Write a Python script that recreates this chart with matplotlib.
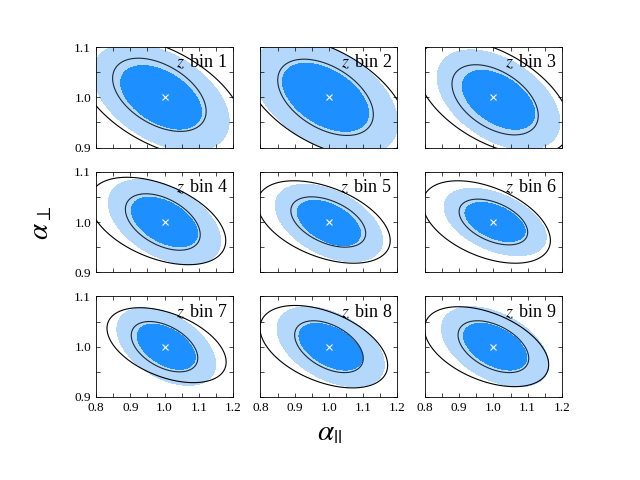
import numpy as np
import matplotlib
matplotlib.use('Agg')
import matplotlib.pyplot as plt
from matplotlib.ticker import MultipleLocator

plt.rcParams['font.family'] = ['Liberation Serif', 'DejaVu Serif']
plt.rcParams['mathtext.fontset'] = 'stix'

# per-bin Gaussian approximations
bins = [1, 2, 3, 4, 5, 6, 7, 8, 9]
fill_sig_par = [0.080, 0.085, 0.072, 0.066, 0.063, 0.060, 0.058, 0.063, 0.063]
fill_sig_perp = [0.043, 0.046, 0.040, 0.034, 0.031, 0.027, 0.031, 0.032, 0.032]
fill_rho = [-0.45, -0.45, -0.45, -0.45, -0.45, -0.45, -0.45, -0.45, -0.45]
fill_cen_par = [0.99, 0.99, 1.015, 1.0, 1.0, 1.005, 1.005, 1.005, 1.005]
fill_cen_perp = [1.0, 1.0, 0.995, 1.0, 0.998, 1.0, 1.0, 1.0, 1.0]

# inner black contour (68%)
in_sig_par = [0.090, 0.092, 0.083, 0.072, 0.072, 0.066, 0.064, 0.066, 0.068]
in_sig_perp = [0.048, 0.050, 0.046, 0.037, 0.033, 0.030, 0.033, 0.034, 0.034]
in_rho = [-0.45, -0.45, -0.45, -0.45, -0.45, -0.45, -0.45, -0.45, -0.45]
in_cen_par = [0.985, 0.99, 1.005, 0.995, 0.998, 1.0, 1.0, 1.0, 1.0]
in_cen_perp = [1.005, 1.0, 0.995, 1.0, 1.0, 1.0, 1.0, 1.0, 1.0]

# outer black contour (95%)
out_sig_par = [0.097, 0.095, 0.090, 0.080, 0.078, 0.075, 0.070, 0.075, 0.073]
out_sig_perp = [0.048, 0.048, 0.046, 0.035, 0.033, 0.033, 0.030, 0.033, 0.032]
out_rho = [-0.5, -0.5, -0.5, -0.45, -0.45, -0.45, -0.45, -0.45, -0.45]
out_cen_par = [0.99, 0.99, 1.0, 0.98, 0.985, 0.98, 1.006, 0.985, 0.98]
out_cen_perp = [1.0, 1.0, 1.0, 1.002, 1.0, 1.0, 1.003, 1.0, 1.0]

fid = (1.0, 1.0)
lev1, lev2 = 2.30, 6.17


def chi2(x, y, cx, cy, sx, sy, rho):
    dx = (x - cx) / sx
    dy = (y - cy) / sy
    return (dx**2 + dy**2 - 2 * rho * dx * dy) / (1 - rho**2)


x = np.linspace(0.75, 1.25, 400)
y = np.linspace(0.85, 1.15, 400)
X, Y = np.meshgrid(x, y)

fig, axes = plt.subplots(3, 3, figsize=(6.4, 4.8), dpi=100, sharex=True, sharey=True)
fig.subplots_adjust(left=0.15, right=0.878, top=0.902, bottom=0.173, wspace=0.2, hspace=0.24)

for i, ax in enumerate(axes.flat):
    F = chi2(X, Y, fill_cen_par[i], fill_cen_perp[i], fill_sig_par[i], fill_sig_perp[i], fill_rho[i])
    ax.contourf(X, Y, F, levels=[0, lev1, lev2], colors=['#1e8fff', '#b4d8fb'])
    L1 = chi2(X, Y, in_cen_par[i], in_cen_perp[i], in_sig_par[i], in_sig_perp[i], in_rho[i])
    ax.contour(X, Y, L1, levels=[lev1], colors='#1a2a3a', linewidths=0.8)
    L2 = chi2(X, Y, out_cen_par[i], out_cen_perp[i], out_sig_par[i], out_sig_perp[i], out_rho[i])
    ax.contour(X, Y, L2, levels=[lev2], colors='black', linewidths=0.8)
    ax.plot(*fid, marker='x', color='white', ms=4, mew=0.8)
    ax.text(0.96, 0.94, r'$z\,$ bin %d' % bins[i], transform=ax.transAxes,
            ha='right', va='top', fontsize=13)
    ax.set_xlim(0.8, 1.2)
    ax.set_ylim(0.9, 1.1)
    ax.xaxis.set_major_locator(MultipleLocator(0.1))
    ax.xaxis.set_minor_locator(MultipleLocator(0.05))
    ax.yaxis.set_major_locator(MultipleLocator(0.1))
    ax.yaxis.set_minor_locator(MultipleLocator(0.05))
    ax.tick_params(which='both', direction='in', top=True, right=True, labelsize=9.5)
    ax.tick_params(which='major', length=3, width=0.5)
    ax.tick_params(which='minor', length=3, width=0.5)
    for s in ax.spines.values():
        s.set_linewidth(0.6)

fig.text(0.065, 0.535, r'$\alpha_\perp$', fontsize=21, rotation=90, ha='center', va='center')
fig.text(0.515, 0.097, r'$\alpha_{||}$', fontsize=21, ha='center', va='center')

fig.savefig('out.png', dpi=100)
